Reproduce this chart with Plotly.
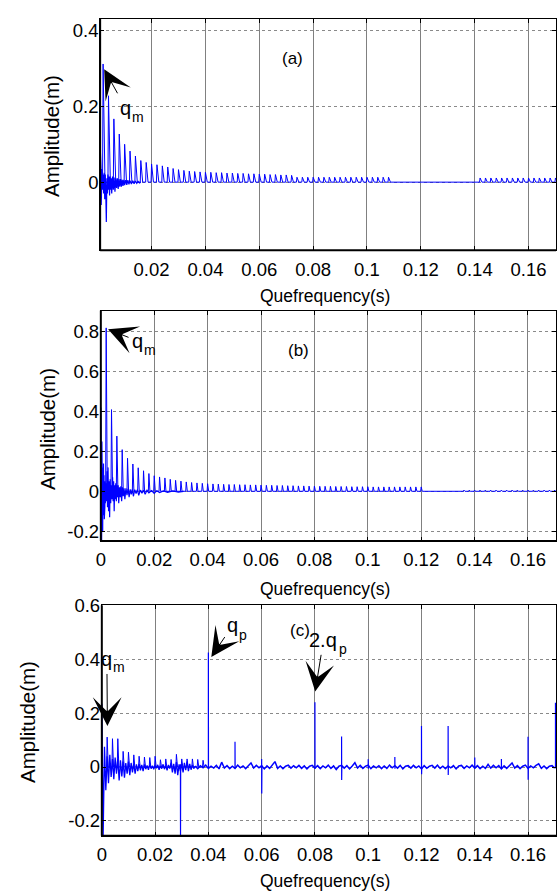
import plotly.graph_objects as go

BLUE = "#0000ff"
FONT = "Liberation Sans, Arial, sans-serif"
W, H = 557, 895

# ------------------------------------------------------------------
# Panel (a): rahmonic comb (period 0.002 s) and early ringing
# ------------------------------------------------------------------
COMB_PERIOD = 0.002
a_comb_k = list(range(1, 55)) + list(range(71, 86))
a_comb_h = [0.312, 0.228, 0.167, 0.127, 0.100, 0.082, 0.069, 0.057, 0.052, 0.048,
            0.046, 0.043, 0.040, 0.036, 0.033, 0.031, 0.029, 0.028, 0.027, 0.026,
            0.026, 0.025, 0.025, 0.024, 0.024, 0.023, 0.023, 0.022, 0.022, 0.021,
            0.021, 0.020, 0.020, 0.019, 0.019, 0.018, 0.013, 0.013, 0.013, 0.013,
            0.013, 0.013, 0.013, 0.013, 0.013, 0.013, 0.013, 0.013, 0.013, 0.013,
            0.013, 0.013, 0.013, 0.013,
            0.011, 0.011, 0.011, 0.011, 0.011, 0.011, 0.011, 0.011, 0.011, 0.011,
            0.011, 0.011, 0.011, 0.011, 0.011]
a_ring_t = [0.0009, 0.0010, 0.0011, 0.0012, 0.0013, 0.0014, 0.0015, 0.0016, 0.0018, 0.0020,
            0.0022, 0.0024, 0.0026, 0.0028, 0.0030, 0.0032, 0.0034, 0.0036, 0.0038, 0.0040,
            0.0042, 0.0044, 0.0046, 0.0048, 0.0050, 0.0052, 0.0055, 0.0058, 0.0061, 0.0064,
            0.0067, 0.0070, 0.0073, 0.0076, 0.0079, 0.0082, 0.0085, 0.0088, 0.0091, 0.0094,
            0.0097, 0.0100, 0.0104, 0.0108, 0.0112, 0.0116, 0.0120, 0.0125, 0.0130, 0.0135,
            0.0140, 0.0145, 0.0150, 0.0155, 0.0160]
a_ring_v = [-0.18, 0.078, -0.04, 0.04, -0.06, 0.03, -0.03, 0.035, -0.02, 0.02,
            -0.03, 0.025, -0.045, 0.02, -0.03, -0.105, 0.01, -0.03, 0.02, -0.02,
            0.015, -0.035, 0.015, -0.02, 0.01, -0.03, 0.015, -0.02, 0.012, -0.025,
            0.01, -0.015, 0.01, -0.018, 0.008, -0.012, 0.008, -0.012, 0.006, -0.01,
            0.006, -0.008, 0.005, -0.007, 0.005, -0.006, 0.004, -0.005, 0.004, -0.004,
            0.003, -0.003, 0.002, -0.002, 0.0]

# ------------------------------------------------------------------
# Panel (b)
# ------------------------------------------------------------------
b_comb_k = list(range(1, 61)) + list(range(68, 86))
b_comb_h = [0.820, 0.410, 0.277, 0.209, 0.166, 0.137, 0.118, 0.103, 0.089, 0.078,
            0.072, 0.067, 0.060, 0.055, 0.051, 0.047, 0.044, 0.042, 0.040, 0.038,
            0.037, 0.036, 0.035, 0.034, 0.034, 0.033, 0.033, 0.032, 0.032, 0.031,
            0.030, 0.030, 0.029, 0.029, 0.028, 0.028, 0.027, 0.027, 0.026, 0.026,
            0.025, 0.025, 0.025, 0.024, 0.024, 0.024, 0.023, 0.023, 0.023, 0.023,
            0.022, 0.022, 0.022, 0.022, 0.022, 0.022, 0.022, 0.022, 0.022, 0.022,
            0.006, 0.006, 0.006, 0.006, 0.006, 0.006, 0.006, 0.006, 0.006, 0.006,
            0.006, 0.006, 0.006, 0.006, 0.006, 0.006, 0.006, 0.006]
b_ring_t = [0.0000, 0.0001, 0.0002, 0.0003, 0.0004, 0.0005, 0.0006, 0.0007, 0.0008, 0.0009,
            0.0010, 0.0011, 0.0012, 0.0013, 0.0014, 0.0015, 0.0016, 0.0017, 0.0018, 0.0021,
            0.0023, 0.0025, 0.0027, 0.0029, 0.0031, 0.0033, 0.0035, 0.0037, 0.0039, 0.0042,
            0.0044, 0.0046, 0.0048, 0.0050, 0.0052, 0.0054, 0.0056, 0.0058, 0.0061, 0.0063,
            0.0065, 0.0067, 0.0070, 0.0073, 0.0075, 0.0078, 0.0081, 0.0084, 0.0087, 0.0090,
            0.0094, 0.0098, 0.0102, 0.0106, 0.0110, 0.0114, 0.0118, 0.0122, 0.0127, 0.0132,
            0.0137, 0.0142, 0.0148, 0.0154, 0.0160, 0.0166, 0.0173, 0.0180, 0.0190, 0.0200,
            0.0210, 0.0220, 0.0235, 0.0250, 0.0270, 0.0290, 0.0310]
b_ring_v = [0.42, -0.25, 0.30, -0.25, 0.25, -0.14, 0.17, -0.20, 0.12, -0.12,
            0.14, -0.10, 0.08, -0.14, 0.06, -0.08, 0.05, -0.06, 0.04, -0.05,
            0.10, -0.08, 0.12, -0.10, 0.05, -0.13, 0.06, -0.06, 0.03, -0.04,
            0.07, -0.05, 0.05, -0.10, 0.03, -0.04, 0.04, -0.05, 0.03, -0.03,
            0.03, -0.06, 0.02, -0.03, 0.025, -0.05, 0.02, -0.025, 0.015, -0.04,
            0.015, -0.02, 0.012, -0.03, 0.01, -0.015, 0.01, -0.025, 0.008, -0.012,
            0.008, -0.02, 0.006, -0.01, 0.005, -0.015, 0.005, -0.008, 0.004, -0.01,
            0.003, -0.006, 0.002, -0.005, 0.002, -0.004, 0.0]

# ------------------------------------------------------------------
# Panel (c): gear-mesh comb, isolated spikes and noisy baseline
# ------------------------------------------------------------------
c_comb_k = list(range(1, 20))
c_comb_h = [0.111, 0.105, 0.105, 0.058, 0.055, 0.045, 0.040, 0.037, 0.035, 0.040,
            0.027, 0.030, 0.028, 0.047, 0.030, 0.030, 0.030, 0.028, 0.025]
C_RING_DT = 0.0005          # sampling step of the early record (s)
c_ring_mm = [235, -255, 75, -86, 40, -60, 45, -37, 30, -45,
             35, -25, 30, -50, 25, -35, 20, -40, 15, -25,
             20, -30, 15, -20, 12, -25, 10, -15, 12, -12,
             8, -15, 10, -8, 6, -10, 8, -6, 5, -8,
             6, -5, 8, -10, 5, -6, 10, -8, 6, -12,
             8, -6, 15, -20, 12, -25, 18, -30, 10, -15,
             12, -20, 15, -12, 20, -15, 12, -10, 8, -6, 3]
C_NOISE_T0, C_NOISE_DT = 0.035, 0.001
c_noise_mm = [4, -6, 5, -3, 7, -5, 3, -4, 6, -7,
              18, -4, 5, -6, 3, -5, 7, -3, 4, -6,
              5, 15, -4, 6, -3, 5, -7, 4, -5, 6,
              20, -5, 4, -6, 3, 7, -4, 5, -3, 6,
              -5, 4, -7, 3, 6, -4, 5, -6, 4, -3,
              7, -5, 4, -9, 3, 6, -4, 5, -7, 4,
              16, -4, 6, -5, 3, 7, -6, 4, -3, 5,
              -6, 4, -5, 7, -3, 5, -4, 6, -7, 3,
              5, -4, 6, -3, 4, -7, 5, -5, 3, 6,
              -4, 7, -5, 3, -6, 4, -3, 5, -7, 4,
              6, -5, 4, -3, 7, -4, 5, -6, 3, -5,
              10, -4, 6, -3, 5, -7, 4, -5, 7, 15,
              -4, 5, -6, 3, 7, -5, 4, -3, 6, 12,
              -5, 4, -6, 3, 5, -4]
c_spike_t = [0.0295, 0.040, 0.050, 0.060, 0.080, 0.090, 0.100, 0.110,
             0.120, 0.130, 0.140, 0.150, 0.160, 0.1703]
c_spike_up = [0.010, 0.425, 0.094, 0.030, 0.240, 0.113, 0.029, 0.0375,
              0.1525, 0.1525, 0.035, 0.030, 0.1125, 0.238]
c_spike_dn = [-0.260, -0.005, -0.005, -0.098, -0.006, -0.048, -0.006, -0.006,
              -0.027, -0.030, -0.006, -0.006, -0.0475, -0.005]


def comb(ks, heights, rise=0.0002, fall=0.0007):
    xs, ys = [], []
    for k, h in zip(ks, heights):
        t = k * COMB_PERIOD
        xs += [t - rise, t, t + fall]
        ys += [0.0, h, 0.0]
    return xs, ys


def spikes(ts, ups, downs):
    xs, ys = [], []
    for t, u, d in zip(ts, ups, downs):
        xs += [t, t, t + 0.00004, t + 0.0001, None]
        ys += [0.0, u, d, 0.0, None]
    return xs, ys


def line(x, y, xa, ya, width=1.0):
    return go.Scatter(x=x, y=y, mode="lines", xaxis=xa, yaxis=ya,
                      line=dict(color=BLUE, width=width), hoverinfo="skip",
                      connectgaps=False, showlegend=False)


fig = go.Figure()

# (a)
fig.add_trace(line(a_ring_t, a_ring_v, "x", "y", 1.2))
fig.add_trace(line(*comb(a_comb_k, a_comb_h), "x", "y"))
# (b)
fig.add_trace(line(b_ring_t, b_ring_v, "x2", "y2", 1.2))
fig.add_trace(line(*comb(b_comb_k, b_comb_h, fall=0.0004), "x2", "y2"))
# (c)
c_ring_t = [i * C_RING_DT for i in range(len(c_ring_mm))]
fig.add_trace(line(c_ring_t, [v / 1000 for v in c_ring_mm], "x3", "y3", 1.3))
c_noise_t = [C_NOISE_T0 + i * C_NOISE_DT for i in range(len(c_noise_mm))]
fig.add_trace(line(c_noise_t, [v / 1000 for v in c_noise_mm], "x3", "y3", 1.5))
fig.add_trace(line(*comb(c_comb_k, c_comb_h, fall=0.0004), "x3", "y3"))
fig.add_trace(line(*spikes(c_spike_t, c_spike_up, c_spike_dn), "x3", "y3", 1.2))

# ------------------------------------------------------------------
# Axes
# ------------------------------------------------------------------
x_ticks = [0.02, 0.04, 0.06, 0.08, 0.10, 0.12, 0.14, 0.16]
x_text = ["0.02", "0.04", "0.06", "0.08", "0.1", "0.12", "0.14", "0.16"]
TICKFONT = dict(family=FONT, size=18.5, color="black")


def xaxis(domain, rng, with_zero, anchor):
    vals = ([0.0] if with_zero else []) + x_ticks
    text = (["0"] if with_zero else []) + x_text
    return dict(domain=domain, range=rng, anchor=anchor, tickvals=vals, ticktext=text,
                showline=True, linecolor="black", linewidth=1, mirror="ticks",
                ticks="inside", ticklen=4, tickcolor="black", ticklabelstandoff=2,
                showgrid=True, gridcolor="#808080", gridwidth=1, zeroline=False,
                tickfont=TICKFONT)


def yaxis(domain, rng, vals, anchor):
    text = ["%g" % v for v in vals]
    return dict(domain=domain, range=rng, anchor=anchor, tickvals=vals, ticktext=text,
                showline=True, linecolor="black", linewidth=1, mirror="ticks",
                ticks="inside", ticklen=4, tickcolor="black", ticklabelstandoff=-3,
                showgrid=True, gridcolor="#8a8a8a", gridwidth=1, griddash="dot",
                zeroline=False, tickfont=TICKFONT)


def px_x(p):
    return p / W


def px_y(p):
    return 1 - p / H


dom_a = dict(x=[px_x(96), px_x(556)], y=[px_y(242.3), px_y(8)])
dom_b = dict(x=[px_x(96.7), px_x(556)], y=[px_y(536.7), px_y(303.3)])
dom_c = dict(x=[px_x(97.7), px_x(556)], y=[px_y(835), px_y(601.7)])

fig.update_layout(
    width=W, height=H, margin=dict(l=0, r=0, t=0, b=0),
    paper_bgcolor="white", plot_bgcolor="white", showlegend=False,
    xaxis=xaxis(dom_a["x"], [0.0009, 0.1702], False, "y"),
    yaxis=yaxis(dom_a["y"], [-0.18, 0.431], [0, 0.2, 0.4], "x"),
    xaxis2=xaxis(dom_b["x"], [0.0, 0.1705], True, "y2"),
    yaxis2=yaxis(dom_b["y"], [-0.25, 0.907], [-0.2, 0, 0.2, 0.4, 0.6, 0.8], "x2"),
    xaxis3=xaxis(dom_c["x"], [0.0, 0.1705], True, "y3"),
    yaxis3=yaxis(dom_c["y"], [-0.255, 0.6], [-0.2, 0, 0.2, 0.4, 0.6], "x3"),
)

# heavier left/bottom frame edges
for dom in (dom_a, dom_b, dom_c):
    fig.add_shape(type="line", xref="paper", yref="paper", x0=dom["x"][0], x1=dom["x"][0],
                  y0=dom["y"][0], y1=dom["y"][1], line=dict(color="black", width=2))
    fig.add_shape(type="line", xref="paper", yref="paper", x0=dom["x"][0], x1=dom["x"][1],
                  y0=dom["y"][0], y1=dom["y"][0], line=dict(color="black", width=2))

# ------------------------------------------------------------------
# Titles and annotations
# ------------------------------------------------------------------
ann = []
for xc, yc in [(47, 127), (43.5, 423), (22, 720)]:
    ann.append(dict(text="Amplitude(m)", xref="paper", yref="paper", x=px_x(xc), y=px_y(yc),
                    textangle=-90, showarrow=False, xanchor="center", yanchor="middle",
                    font=dict(family=FONT, size=20.5, color="black")))
for yc in [289, 585, 881]:
    ann.append(dict(text="Quefrequency(s)", xref="paper", yref="paper", x=px_x(323), y=px_y(yc),
                    showarrow=False, xanchor="center", yanchor="middle",
                    font=dict(family=FONT, size=17.5, color="black")))

for text, xr, yr, xv, yv in [("(a)", "x", "y", 0.0723, 0.326),
                             ("(b)", "x2", "y2", 0.074, 0.706),
                             ("(c)", "x3", "y3", 0.0745, 0.506)]:
    ann.append(dict(text=text, xref=xr, yref=yr, x=xv, y=yv, showarrow=False,
                    xanchor="center", yanchor="middle",
                    font=dict(family=FONT, size=17, color="black")))

# peak labels with pointers:
# (main text, subscript, axes, tip x, tip y, label x, label y, subscript x/y shift in px)
pointers = [("q", "m", "x", "y", 0.0024, 0.298, 0.0103, 0.197, 12.5, -9),
            ("q", "m", "x2", "y2", 0.0027, 0.813, 0.0137, 0.755, 12.5, -9),
            ("q", "m", "x3", "y3", 0.0021, 0.152, 0.0019, 0.399, 12.5, -8),
            ("q", "p", "x3", "y3", 0.0411, 0.408, 0.0492, 0.527, 10.5, -10),
            ("2.q", "p", "x3", "y3", 0.0801, 0.280, 0.0832, 0.470, 19.5, -9)]
for main, sub, xr, yr, xt, yt, xl, yl, dx, dy in pointers:
    ann.append(dict(text=main, xref=xr, yref=yr, x=xt, y=yt, axref=xr, ayref=yr, ax=xl, ay=yl,
                    showarrow=True, arrowhead=3, arrowsize=4.8, arrowwidth=1.0,
                    arrowcolor="black", standoff=0, startstandoff=2,
                    font=dict(family=FONT, size=20, color="black")))
    ann.append(dict(text=sub, xref=xr, yref=yr, x=xl, y=yl, xshift=dx, yshift=dy,
                    showarrow=False, xanchor="center", yanchor="middle",
                    font=dict(family=FONT, size=14, color="black")))

fig.update_layout(annotations=ann)

# the page body carries no default margin, so the figure sits at the window corner
fig.write_html("out.html", post_script="document.body.style.margin='0';")
